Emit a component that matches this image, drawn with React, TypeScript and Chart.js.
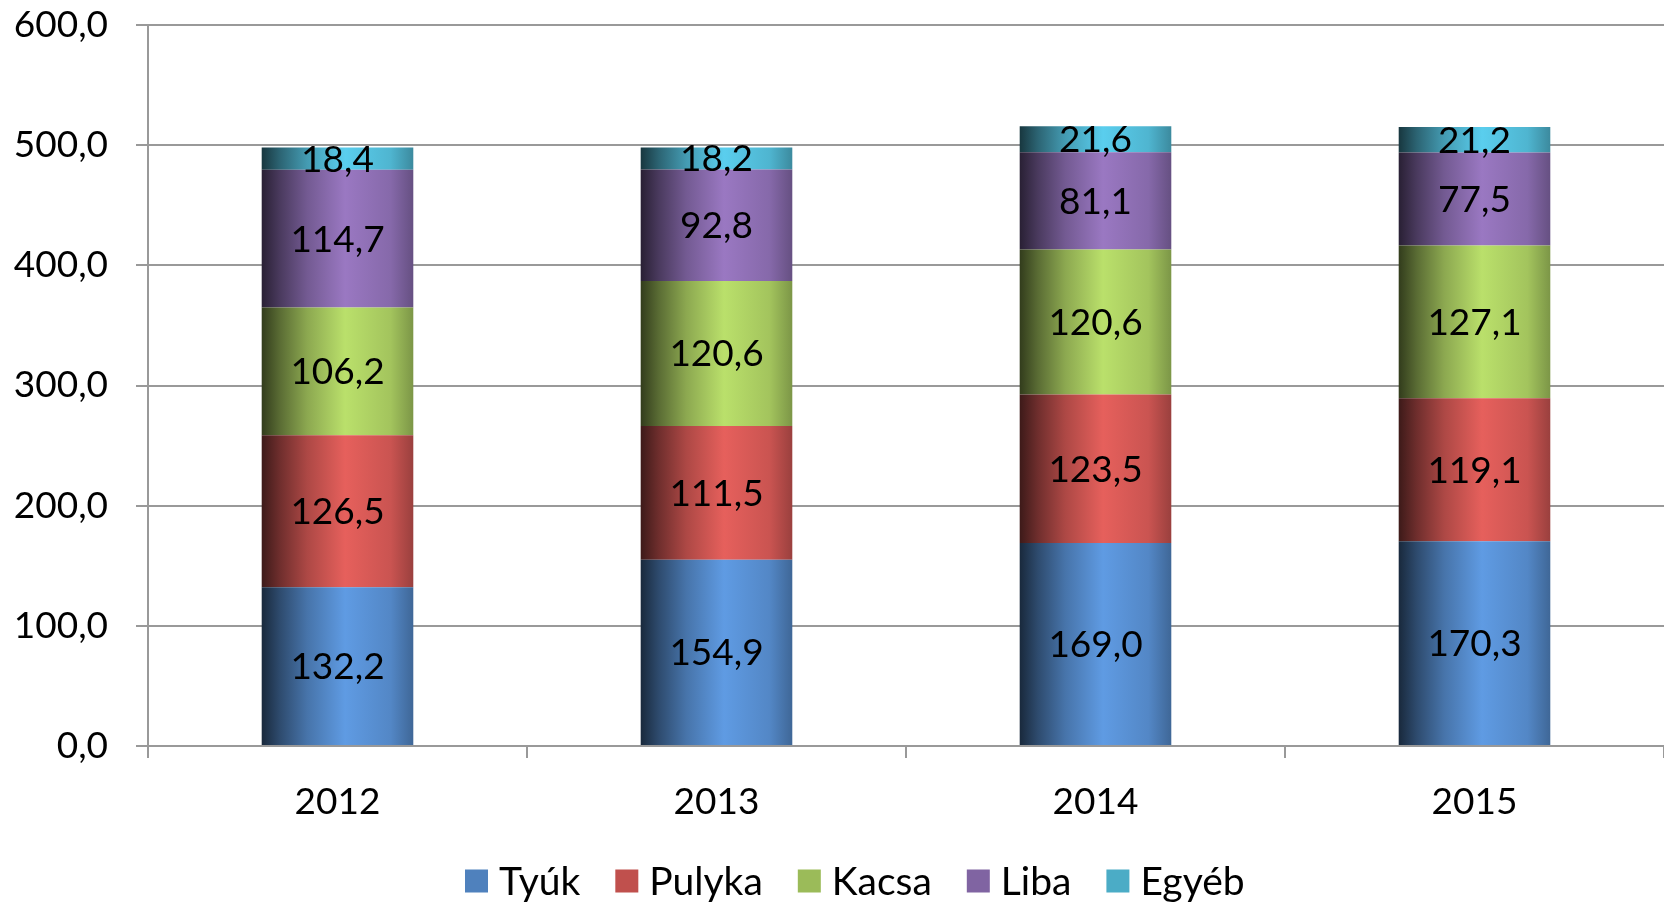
import React, { useEffect, useRef } from "react";
import { Chart, registerables } from "chart.js";

Chart.register(...registerables);

const categories = ["2012", "2013", "2014", "2015"];
const seriesNames = ["Tyúk", "Pulyka", "Kacsa", "Liba", "Egyéb"];
const tyuk = [132.2, 154.9, 169.0, 170.3];
const pulyka = [126.5, 111.5, 123.5, 119.1];
const kacsa = [106.2, 120.6, 120.6, 127.1];
const liba = [114.7, 92.8, 81.1, 77.5];
const egyeb = [18.4, 18.2, 21.6, 21.2];
const seriesColors = ["#4F81BD", "#C0504D", "#9BBB59", "#8064A2", "#4BACC6"];

const FONT = "Lato, 'Open Sans', 'Noto Sans', sans-serif";
const FS = 37;
const LEGEND_FS = 39;

function shade(hex: string, f: number): string {
  const n = parseInt(hex.slice(1), 16);
  const c = [(n >> 16) & 255, (n >> 8) & 255, n & 255].map((v) =>
    Math.max(0, Math.min(255, Math.round(v * f)))
  );
  return `rgb(${c[0]},${c[1]},${c[2]})`;
}

function gradientFor(base: string) {
  return (ctx: any) => {
    const chart = ctx.chart;
    const x = chart.scales?.x;
    if (!x || ctx.dataIndex === undefined) return base;
    const center = x.getPixelForValue(ctx.dataIndex);
    const catW = (x.right - x.left) / categories.length;
    const w = catW * 0.8 * 0.5;
    if (!isFinite(center) || !isFinite(w) || w <= 0) return base;
    const g = chart.ctx.createLinearGradient(center - w / 2, 0, center + w / 2, 0);
    g.addColorStop(0, shade(base, 0.32));
    g.addColorStop(0.12, shade(base, 0.58));
    g.addColorStop(0.3, shade(base, 0.9));
    g.addColorStop(0.55, shade(base, 1.2));
    g.addColorStop(0.85, shade(base, 1.05));
    g.addColorStop(1, shade(base, 0.8));
    return g;
  };
}

const fmt = (v: number) => v.toFixed(1).replace(".", ",");

const labelPlugin = {
  id: "barLabels",
  afterDatasetsDraw(chart: any) {
    const c = chart.ctx;
    c.save();
    c.font = `${FS}px ${FONT}`;
    c.fillStyle = "#000";
    c.textAlign = "center";
    c.textBaseline = "middle";
    chart.data.datasets.forEach((ds: any, i: number) => {
      const meta = chart.getDatasetMeta(i);
      meta.data.forEach((el: any, j: number) => {
        const y = (el.y + el.base) / 2;
        c.fillText(fmt(ds.data[j]), el.x, y + 1);
      });
    });
    c.restore();
  },
};

const legendPlugin = {
  id: "customLegend",
  afterDraw(chart: any) {
    const c = chart.ctx;
    c.save();
    c.font = `${LEGEND_FS}px ${FONT}`;
    c.textBaseline = "middle";
    c.textAlign = "left";
    const box = 23;
    const cy = 881;
    let x = 465;
    seriesNames.forEach((name, i) => {
      c.fillStyle = seriesColors[i];
      c.fillRect(x, cy - box / 2, box, box);
      x += box + 11;
      c.fillStyle = "#000";
      c.fillText(name, x, cy + 1);
      x += c.measureText(name).width + 35;
    });
    c.restore();
  },
};

export default function App() {
  const ref = useRef<HTMLCanvasElement>(null);
  useEffect(() => {
    if (!ref.current) return;
    const all = [tyuk, pulyka, kacsa, liba, egyeb];
    const chart = new Chart(ref.current, {
      type: "bar",
      data: {
        labels: categories,
        datasets: all.map((d, i) => ({
          label: seriesNames[i],
          data: d,
          backgroundColor: gradientFor(seriesColors[i]),
          borderWidth: 0,
          barPercentage: 0.5,
          categoryPercentage: 0.8,
        })),
      },
      options: {
        animation: false,
        responsive: true,
        maintainAspectRatio: false,
        layout: { padding: { top: 0, left: 0, right: 0, bottom: 0 } },
        plugins: {
          tooltip: { enabled: false },
          legend: { display: false },
        },
        scales: {
          x: {
            stacked: true,
            afterFit: (s: any) => {
              s.height = 157;
            },
            grid: {
              offset: true,
              drawOnChartArea: false,
              drawTicks: true,
              tickLength: 12,
              color: "#999",
              lineWidth: 2,
            },
            border: { color: "#999", width: 2 },
            ticks: {
              font: { family: FONT, size: FS },
              color: "#000",
              padding: 22,
            },
          },
          y: {
            stacked: true,
            min: 0,
            max: 600,
            afterFit: (s: any) => {
              s.width = 148;
              s.paddingTop = 25;
              s.paddingBottom = 0;
            },
            ticks: {
              stepSize: 100,
              font: { family: FONT, size: FS },
              color: "#000",
              padding: 28,
              callback: (v: any) => fmt(Number(v)),
            },
            grid: {
              color: "#999",
              lineWidth: 2,
              tickLength: 12,
              drawTicks: true,
            },
            border: { color: "#999", width: 2 },
          },
        },
      },
      plugins: [labelPlugin, legendPlugin],
    });
    return () => chart.destroy();
  }, []);
  return (
    <div style={{ position: "fixed", left: 0, top: 0, width: "100vw", height: "100vh", background: "#fff" }}>
      <canvas ref={ref} />
    </div>
  );
}
